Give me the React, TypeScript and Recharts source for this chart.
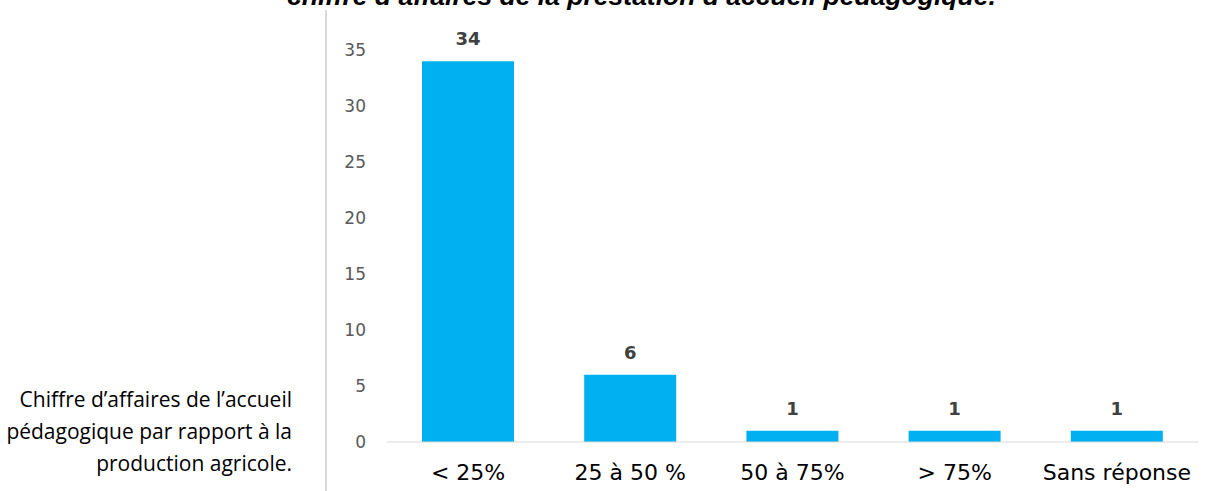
import { BarChart, Bar, XAxis, YAxis, LabelList } from 'recharts';

const categories = ['< 25%', '25 à 50 %', '50 à 75%', '> 75%', 'Sans réponse'];
const counts = [34, 6, 1, 1, 1];
const yTicks = [0, 5, 10, 15, 20, 25, 30, 35];

const data = categories.map((name, i) => ({ name, count: counts[i] }));

export default function App() {
  return (
    <div
      style={{
        position: 'absolute',
        left: 0,
        top: 0,
        width: 1214,
        height: 491,
        overflow: 'hidden',
        background: '#fff',
      }}
    >
      <div
        style={{
          position: 'absolute',
          left: 287,
          top: -19,
          fontFamily: '"Liberation Sans", Arial, sans-serif',
          fontWeight: 'bold',
          fontStyle: 'italic',
          fontSize: 26.5,
          whiteSpace: 'nowrap',
          color: '#000',
        }}
      >
        chiffre d’affaires de la prestation d’accueil pédagogique.
      </div>

      <div
        style={{
          position: 'absolute',
          left: 325,
          top: 10,
          width: 2,
          height: 481,
          background: '#d9d9d9',
        }}
      />

      <div
        style={{
          position: 'absolute',
          right: 1214 - 292,
          top: 383,
          textAlign: 'right',
          fontFamily: '"Open Sans", sans-serif',
          fontSize: 21,
          lineHeight: '32px',
          color: '#000',
          whiteSpace: 'nowrap',
        }}
      >
        Chiffre d’affaires de l’accueil
        <br />
        pédagogique par rapport à la
        <br />
        production agricole.
      </div>

      <div style={{ position: 'absolute', left: 0, top: 0 }}>
        <BarChart
          width={1214}
          height={491}
          data={data}
          margin={{ top: 50, right: 16, bottom: 0, left: 347 }}
        >
          <XAxis
            dataKey='name'
            height={49}
            tickLine={false}
            tickSize={0}
            tickMargin={22}
            axisLine={{ stroke: '#d9d9d9', strokeWidth: 1 }}
            tick={{ fill: '#000', fontSize: 22, fontFamily: '"DejaVu Sans", sans-serif' }}
          />
          <YAxis
            width={40}
            domain={[0, 35]}
            ticks={yTicks}
            axisLine={false}
            tickLine={false}
            tickSize={0}
            tickMargin={21}
            tick={{ fill: '#595959', fontSize: 17, fontFamily: '"DejaVu Sans", sans-serif' }}
          />
          <Bar dataKey='count' fill='#00B0F0' barSize={92} isAnimationActive={false}>
            <LabelList
              dataKey='count'
              position='top'
              offset={16}
              fill='#404040'
              fontSize={18}
              fontWeight='bold'
              fontFamily='"DejaVu Sans", sans-serif'
            />
          </Bar>
        </BarChart>
      </div>
    </div>
  );
}
